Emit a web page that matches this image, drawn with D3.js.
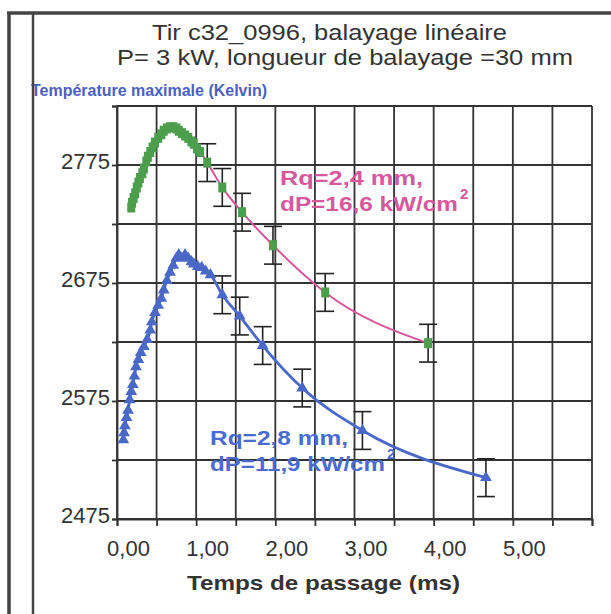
<!DOCTYPE html>
<html>
<head>
<meta charset="utf-8">
<script src="https://cdn.jsdelivr.net/npm/d3@7"></script>
<style>
  body { margin: 0; background: #fff; }
  svg { display: block; font-family: "Liberation Sans", Arial, sans-serif; }
</style>
</head>
<body>
<div id="chart"></div>
<script>
// Rq=2,4 mm series (green squares, pink line)
var greenTime = [0.18,0.19,0.21,0.23,0.25,0.27,0.29,0.32,0.34,0.37,0.39,0.42,0.45,0.48,0.52,0.56,0.59,0.63,0.67,0.71,0.75,0.78,0.82,0.86,0.90,0.94,0.97,1.01,1.05,
                 1.14,1.33,1.58,1.97,2.63,3.93];
var greenTemp = [2739,2743,2747,2751,2756,2760,2764,2768,2772,2778,2782,2786,2790,2794,2798,2801,2804,2806,2807,2807,2806,2804,2802,2800,2798,2795,2793,2789,2786,
                 2777,2756,2735,2707,2667,2624];
var greenErr  = [null,null,null,null,null,null,null,null,null,null,null,null,null,null,null,null,null,null,null,null,null,null,null,null,null,null,null,null,null,
                 16,16,16,16,16,16];

// Rq=2,8 mm series (blue triangles)
var blueTime = [0.08,0.09,0.10,0.12,0.14,0.16,0.18,0.20,0.22,0.24,0.27,0.30,0.34,0.38,0.42,0.44,0.48,0.52,0.56,0.59,0.63,0.67,0.71,0.75,0.78,0.82,0.86,0.90,0.94,0.97,1.02,1.07,1.12,1.18,
                1.33,1.55,1.84,2.34,3.10,4.66];
var blueTemp = [2542,2548,2554,2561,2567,2576,2583,2589,2596,2604,2610,2616,2621,2627,2635,2642,2650,2656,2662,2669,2677,2684,2690,2696,2699,2696,2699,2696,2693,2691,2689,2688,2685,2682,
                2665,2647,2622,2586,2550,2510];
var blueErr  = [null,null,null,null,null,null,null,null,null,null,null,null,null,null,null,null,null,null,null,null,null,null,null,null,null,null,null,null,null,null,null,null,null,null,
                16,16,16,16,16,16];

var xLabelTicks = [0, 1, 2, 3, 4, 5];
var yLabelTicks = [2475, 2575, 2675, 2775];

function init() {
    var w = 611, h = 614;
    var green = greenTime.map(function(t, i) { return {t: t, v: greenTemp[i], e: greenErr[i]}; });
    var blue = blueTime.map(function(t, i) { return {t: t, v: blueTemp[i], e: blueErr[i]}; });

    var svg = d3.select("#chart").append("svg")
        .attr("width", w).attr("height", h);

    var x = d3.scaleLinear().domain([0, 6]).range([117, 592]);
    var y = d3.scaleLinear().domain([2475, 2825]).range([519, 106]);

    var ink = "#333";

    // grid
    svg.append("g").selectAll("line")
        .data(d3.range(0, 6.01, 0.5))
        .enter().append("line")
        .attr("x1", function(d) { return x(d); }).attr("x2", function(d) { return x(d); })
        .attr("y1", y(2825)).attr("y2", y(2475))
        .attr("stroke", ink).attr("stroke-width", 1.8);
    svg.append("g").selectAll("line")
        .data(d3.range(2475, 2826, 50))
        .enter().append("line")
        .attr("x1", x(0)).attr("x2", x(6))
        .attr("y1", function(d) { return y(d); }).attr("y2", function(d) { return y(d); })
        .attr("stroke", ink).attr("stroke-width", 1.8);

    // axes
    var xAxis = svg.append("g")
        .attr("transform", "translate(0," + y(2475) + ")")
        .call(d3.axisBottom(x).tickValues(d3.range(0, 6.01, 0.5)).tickSize(7).tickPadding(14)
            .tickFormat(function(d) {
                return xLabelTicks.indexOf(d) >= 0 ? d.toFixed(2).replace(".", ",") : "";
            }));
    xAxis.selectAll("text").attr("dx", 11).attr("font-size", 22)
        .attr("fill", ink).attr("font-family", "Liberation Sans, Arial, sans-serif");

    var yAxis = svg.append("g")
        .attr("transform", "translate(" + x(0) + ",0)")
        .call(d3.axisLeft(y).tickValues(d3.range(2475, 2826, 50)).tickSize(5).tickPadding(2)
            .tickFormat(function(d) { return yLabelTicks.indexOf(d) >= 0 ? d : ""; }));
    yAxis.selectAll("text").attr("y", -4).attr("font-size", 22)
        .attr("fill", ink).attr("font-family", "Liberation Sans, Arial, sans-serif");

    svg.selectAll(".domain, .tick line").attr("stroke", ink).attr("stroke-width", 1.8);

    // lines
    var line = d3.line()
        .x(function(d) { return x(d.t); })
        .y(function(d) { return y(d.v); })
        .curve(d3.curveMonotoneX);

    svg.append("path").datum(green).attr("d", line)
        .attr("fill", "none").attr("stroke", "#d6579b").attr("stroke-width", 2);
    svg.append("path").datum(blue).attr("d", line)
        .attr("fill", "none").attr("stroke", "#4a68c8").attr("stroke-width", 2.8);

    // error bars
    function errorBars(data) {
        var g = svg.append("g").attr("stroke", "#222").attr("stroke-width", 1.6);
        var bars = data.filter(function(d) { return d.e; });
        g.selectAll(".v").data(bars).enter().append("line")
            .attr("x1", function(d) { return x(d.t); }).attr("x2", function(d) { return x(d.t); })
            .attr("y1", function(d) { return y(d.v + d.e); }).attr("y2", function(d) { return y(d.v - d.e); });
        [1, -1].forEach(function(s) {
            g.selectAll(".c" + s).data(bars).enter().append("line")
                .attr("x1", function(d) { return x(d.t) - 9; }).attr("x2", function(d) { return x(d.t) + 9; })
                .attr("y1", function(d) { return y(d.v + s * d.e); }).attr("y2", function(d) { return y(d.v + s * d.e); });
        });
    }
    errorBars(green);
    errorBars(blue);

    // markers
    svg.append("g").selectAll("rect")
        .data(green).enter().append("rect")
        .attr("x", function(d) { return x(d.t) - 4; })
        .attr("y", function(d) { return y(d.v) - 5; })
        .attr("width", 8).attr("height", 10)
        .attr("fill", "#4c9e4c");

    svg.append("g").selectAll("path")
        .data(blue).enter().append("path")
        .attr("d", d3.symbol(d3.symbolTriangle).size(60))
        .attr("transform", function(d) { return "translate(" + x(d.t) + "," + y(d.v) + ")"; })
        .attr("fill", "#4a68c8");

    // titles
    svg.append("text").attr("x", 152).attr("y", 40)
        .attr("font-size", 22).attr("fill", ink)
        .attr("textLength", 355).attr("lengthAdjust", "spacingAndGlyphs")
        .text("Tir c32_0996, balayage linéaire");
    svg.append("text").attr("x", 117).attr("y", 65)
        .attr("font-size", 22).attr("fill", ink)
        .attr("textLength", 456).attr("lengthAdjust", "spacingAndGlyphs")
        .text("P= 3 kW, longueur de balayage =30 mm");

    svg.append("text").attr("x", 31).attr("y", 96)
        .attr("font-size", 16).attr("font-weight", "bold").attr("fill", "#4b5fc4")
        .attr("textLength", 236).attr("lengthAdjust", "spacingAndGlyphs")
        .text("Température maximale (Kelvin)");

    svg.append("text").attr("x", 187).attr("y", 590)
        .attr("font-size", 21).attr("font-weight", "bold").attr("fill", ink)
        .attr("textLength", 273).attr("lengthAdjust", "spacingAndGlyphs")
        .text("Temps de passage (ms)");

    // annotations
    function note(x0, y0, l1, w1, l2, w2, color) {
        var g = svg.append("g").attr("fill", color).attr("font-weight", "bold").attr("font-size", 21);
        g.append("text").attr("x", x0).attr("y", y0)
            .attr("textLength", w1).attr("lengthAdjust", "spacingAndGlyphs").text(l1);
        g.append("text").attr("x", x0).attr("y", y0 + 26)
            .attr("textLength", w2).attr("lengthAdjust", "spacingAndGlyphs").text(l2);
        g.append("text").attr("x", x0 + w2 + 2).attr("y", y0 + 14)
            .attr("font-size", 15).text("2");
    }
    note(280, 185, "Rq=2,4 mm,", 143, "dP=16,6 kW/cm", 178, "#d6589d");
    note(210, 445, "Rq=2,8 mm,", 138, "dP=11,9 kW/cm", 175, "#4a6bd0");

    // frame
    svg.append("line").attr("x1", 7).attr("x2", w).attr("y1", 13).attr("y2", 13)
        .attr("stroke", "#444").attr("stroke-width", 3.5);
    svg.append("line").attr("x1", 9).attr("x2", 9).attr("y1", 12).attr("y2", h)
        .attr("stroke", "#444").attr("stroke-width", 3.5);
    svg.append("line").attr("x1", 33).attr("x2", 33).attr("y1", 13).attr("y2", h)
        .attr("stroke", "#444").attr("stroke-width", 2.5);
}
window.onload = init;
</script>
</body>
</html>
